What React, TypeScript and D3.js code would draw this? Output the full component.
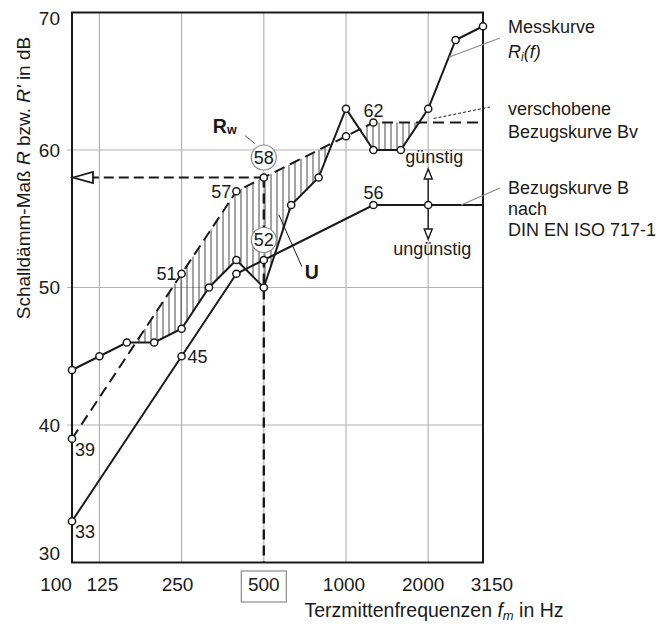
import * as d3 from "d3";
import React from "react";

// third-octave band centres (x categories)
const freqs = ["100", "125", "160", "200", "250", "315", "400", "500", "630", "800", "1000", "1250", "1600", "2000", "2500", "3150"];
// measured curve Ri(f)
const measured = [44, 45, 46, 46, 47, 50, 52, 50, 56, 58, 63, 60, 60, 63, 68, 69];
// reference curve B (DIN EN ISO 717-1)
const reference = [33, 36, 39, 42, 45, 48, 51, 52, 53, 54, 55, 56, 56, 56, 56, 56];
// shifted reference curve Bv
const shifted = [39, 42, 45, 48, 51, 54, 57, 58, 59, 60, 61, 62, 62, 62, 62, 62];
// which points carry a marker on the reference curves
const referenceMarks = ["100", "250", "400", "500", "1250", "2000"];
const shiftedMarks = ["100", "250", "400", "500", "1000", "1250"];
// labelled values
const referenceLabels = ["100", "250", "1250"];
const shiftedLabels = ["100", "250", "400", "1250"];
const xTickLabels = ["100", "125", "250", "500", "1000", "2000", "3150"];
const xGrid = ["125", "250", "500", "1000", "2000"];
const yTicks = [30, 40, 50, 60, 70];
const yGrid = [40, 50, 60];
const ratingFreq = "500";

const W = 657;
const H = 624;
const left = 72;
const right = 483;
const top = 12.5;
const bottom = 562.5;
const FONT = "'Liberation Sans', Arial, Helvetica, sans-serif";
const INK = "#1a1a1a";
const GRID = "#b4b4b4";

const idx = (f: string) => freqs.indexOf(f);
const interp = (arr: number[], t: number) => {
  const i = Math.max(0, Math.min(Math.floor(t), arr.length - 2));
  const f = t - i;
  return arr[i] * (1 - f) + arr[i + 1] * f;
};

export default function App() {
  const x = d3.scaleLinear().domain([0, freqs.length - 1]).range([left, right]);
  const y = d3.scaleLinear().domain([30, 70]).range([bottom, top]);
  const line = d3
    .line<number>()
    .x((_, i) => x(i))
    .y((d) => y(d));

  // hatching where the measured curve falls below the shifted reference
  const hatch: { t: number; hi: number; lo: number }[] = [];
  d3.range(left + 1, right, 6).forEach((px) => {
    const t = x.invert(px);
    const hi = interp(shifted, t);
    const lo = interp(measured, t);
    if (hi - lo > 0.15) hatch.push({ t, hi, lo });
  });

  const ri = idx(ratingFreq);
  const rw = shifted[ri];
  const rRef = reference[ri];

  const marker = (cx: number, cy: number, key: string) => (
    <circle key={key} cx={cx} cy={cy} r={3.6} fill="#fff" stroke={INK} strokeWidth={1.5} />
  );

  const arrowUp = (cx: number, tip: number) =>
    `M${cx},${tip} L${cx - 4},${tip + 10} L${cx + 4},${tip + 10} Z`;
  const arrowDown = (cx: number, tip: number) =>
    `M${cx},${tip} L${cx - 4},${tip - 10} L${cx + 4},${tip - 10} Z`;

  const gx = x(idx("2000"));
  const gy = y(reference[idx("2000")]);

  // leader anchor on the measured curve between 2000 and 2500
  const mt = 13.75;

  return (
    <svg
      width={W}
      height={H}
      style={{ position: "absolute", left: 0, top: 0, background: "#fff" }}
      fontFamily={FONT}
    >
      {/* grid */}
      {yGrid.map((v) => (
        <line key={"gy" + v} x1={left - 5} x2={right} y1={y(v)} y2={y(v)} stroke={GRID} strokeWidth={1.2} />
      ))}
      {xGrid.map((f) => (
        <line key={"gx" + f} x1={x(idx(f))} x2={x(idx(f))} y1={top} y2={bottom} stroke={GRID} strokeWidth={1.2} />
      ))}

      {/* hatch */}
      {hatch.map((h, i) => (
        <line key={"h" + i} x1={x(h.t)} x2={x(h.t)} y1={y(h.hi)} y2={y(h.lo)} stroke="#333" strokeWidth={0.9} />
      ))}

      {/* frame */}
      <rect x={left} y={top} width={right - left} height={bottom - top} fill="none" stroke={INK} strokeWidth={2} />

      {/* rating construction lines */}
      <line x1={x(ri)} x2={x(ri)} y1={y(rw)} y2={bottom} stroke={INK} strokeWidth={2.4} strokeDasharray="10 6" />
      <line x1={x(ri)} x2={left + 21} y1={y(rw)} y2={y(rw)} stroke={INK} strokeWidth={2} strokeDasharray="10 5" />
      <path
        d={`M${left + 1},${y(rw)} L${left + 21},${y(rw) - 5.5} L${left + 21},${y(rw) + 5.5} Z`}
        fill="#fff"
        stroke={INK}
        strokeWidth={1.8}
      />

      {/* curves */}
      <path d={line(reference) || ""} fill="none" stroke={INK} strokeWidth={2} />
      <path d={line(shifted) || ""} fill="none" stroke={INK} strokeWidth={2} strokeDasharray="11 6" />
      <path d={line(measured) || ""} fill="none" stroke={INK} strokeWidth={2} />

      {/* günstig / ungünstig arrows */}
      <line x1={gx} x2={gx} y1={gy} y2={gy - 27} stroke={INK} strokeWidth={1.4} />
      <path d={arrowUp(gx, gy - 36)} fill="#fff" stroke={INK} strokeWidth={1.4} />
      <line x1={gx} x2={gx} y1={gy} y2={gy + 25} stroke={INK} strokeWidth={1.4} />
      <path d={arrowDown(gx, gy + 34)} fill="#fff" stroke={INK} strokeWidth={1.4} />

      {/* markers */}
      {measured.map((v, i) => marker(x(i), y(v), "m" + i))}
      {referenceMarks.map((f) => marker(x(idx(f)), y(reference[idx(f)]), "r" + f))}
      {shiftedMarks.map((f) => marker(x(idx(f)), y(shifted[idx(f)]), "s" + f))}

      {/* circled values at 500 Hz */}
      {[rw, rRef].map((v) => (
        <g key={"c" + v}>
          <circle cx={x(ri)} cy={y(v) - 20} r={12.5} fill="#fff" stroke="#888" strokeWidth={1.2} />
          <text x={x(ri)} y={y(v) - 20} dy="0.35em" textAnchor="middle" fontSize={18} fill={INK}>
            {v}
          </text>
        </g>
      ))}

      {/* point labels */}
      <g fontSize={18} fill={INK}>
        {referenceLabels.map((f) => {
          const i = idx(f);
          const v = reference[i];
          if (i === 0)
            return <text key={"rl" + f} x={x(i) + 3} y={y(v) + 17}>{v}</text>;
          if (f === "1250")
            return <text key={"rl" + f} x={x(i)} y={y(v) - 6} textAnchor="middle">{v}</text>;
          return <text key={"rl" + f} x={x(i) + 6} y={y(v)} dy="0.35em">{v}</text>;
        })}
        {shiftedLabels.map((f) => {
          const i = idx(f);
          const v = shifted[i];
          if (i === 0)
            return <text key={"sl" + f} x={x(i) + 3} y={y(v) + 17}>{v}</text>;
          if (f === "1250")
            return <text key={"sl" + f} x={x(i)} y={y(v) - 6} textAnchor="middle">{v}</text>;
          return <text key={"sl" + f} x={x(i) - 5} y={y(v)} dy="0.35em" textAnchor="end">{v}</text>;
        })}
      </g>

      {/* Rw and U */}
      <text x={x(ri) - 51} y={y(rw) - 45} fontSize={19.5} fontWeight="bold" fill={INK}>
        R<tspan fontSize={12.5} dy={1}>w</tspan>
      </text>
      <line x1={x(ri) - 19} y1={y(rw) - 42} x2={x(ri) - 9} y2={y(rw) - 34} stroke="#555" strokeWidth={1} />
      <text x={x(ri) + 41} y={y(50) - 9} fontSize={19.5} fontWeight="bold" fill={INK}>U</text>
      <line x1={x(ri) + 38} y1={y(50) - 21} x2={x(ri) + 15} y2={y(55.3)} stroke={INK} strokeWidth={1} />

      <text x={gx + 6} y={gy - 42} textAnchor="middle" fontSize={18} fill={INK}>günstig</text>
      <text x={gx + 4} y={gy + 50} textAnchor="middle" fontSize={18} fill={INK}>ungünstig</text>

      {/* y axis */}
      <g fontSize={19} fill={INK} textAnchor="end">
        {yTicks.map((v) => (
          <text key={"yt" + v} x={left - 12} y={y(v) + (v === 70 ? 6 : v === 30 ? -9 : 0)} dy="0.35em">
            {v}
          </text>
        ))}
      </g>
      <text transform={`translate(30,178) rotate(-90)`} textAnchor="middle" fontSize={19} fill={INK}>
        Schalldämm-Maß <tspan fontStyle="italic">R</tspan> bzw. <tspan fontStyle="italic">R'</tspan> in dB
      </text>

      {/* x axis */}
      <g fontSize={19} fill={INK} textAnchor="middle">
        {xTickLabels.map((f) => {
          const i = idx(f);
          const dx = f === "100" ? -16 : f === "3150" ? 9 : f === "125" ? 3 : f === "250" ? -4 : f === "2000" ? -5 : f === "1000" ? -2 : 0;
          return (
            <text key={"xt" + f} x={x(i) + dx} y={591}>
              {f}
            </text>
          );
        })}
      </g>
      <rect x={x(ri) - 22.5} y={571} width={45} height={31} fill="none" stroke="#8a8a8a" strokeWidth={1.2} />
      <text x={434} y={617} textAnchor="middle" fontSize={19.5} fill={INK}>
        Terzmittenfrequenzen <tspan fontStyle="italic">f</tspan>
        <tspan fontStyle="italic" fontSize={13} dy={3}>m</tspan>
        <tspan dy={-3}> in Hz</tspan>
      </text>

      {/* legend annotations */}
      <g fontSize={18} fill={INK}>
        <text x={508} y={33}>Messkurve</text>
        <text x={508} y={58} fontStyle="italic">
          R<tspan fontSize={12} dy={3}>i</tspan>
          <tspan dy={-3}>(f)</tspan>
        </text>
        <text x={508} y={115}>verschobene</text>
        <text x={508} y={138}>Bezugskurve Bv</text>
        <text x={508} y={194}>Bezugskurve B</text>
        <text x={508} y={215}>nach</text>
        <text x={508} y={236}>DIN EN ISO 717-1</text>
      </g>
      <line x1={x(mt)} y1={y(interp(measured, mt))} x2={500} y2={38} stroke="#888" strokeWidth={1.1} />
      <line x1={x(13.2)} y1={y(62) - 4} x2={490} y2={107} stroke={INK} strokeWidth={1} strokeDasharray="3 2" />
      <line x1={x(14.2)} y1={y(56)} x2={500} y2={188} stroke="#888" strokeWidth={1.1} />
    </svg>
  );
}
